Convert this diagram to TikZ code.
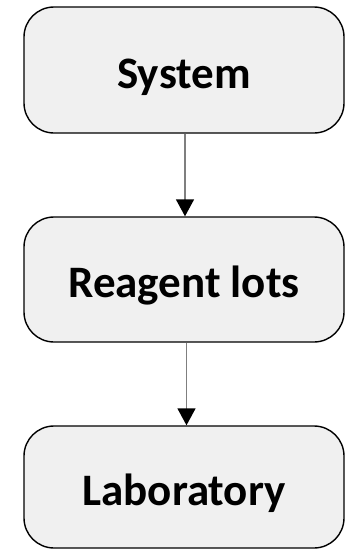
\documentclass[tikz,border=0pt]{standalone}
\usepackage{fontspec}
\setmainfont{Carlito}
\usetikzlibrary{arrows.meta}
\definecolor{boxfill}{HTML}{F0F0F0}
\definecolor{linkgray}{HTML}{7F7F7F}
\tikzset{
  stage/.style={draw=black, line width=1.4pt, fill=boxfill, rounded corners=30pt,
    minimum width=320pt, inner sep=0pt, text height=40pt, text depth=4pt,
    font=\fontsize{45}{52}\selectfont\bfseries},
  link/.style={draw=linkgray, line width=1.5pt,
    -{Triangle[width=18pt,length=17pt,color=black]}}
}
\begin{document}
\begin{tikzpicture}[x=1pt,y=-1pt]
  \useasboundingbox (0,0) rectangle (345,549);
  \node[stage, minimum height=126pt] (sys) at (184,70) {System};
  \node[stage, minimum height=125pt] (lots) at (184,279.5) {Reagent lots};
  \node[stage, minimum height=122pt] (lab) at (184,487) {Laboratory};
  \draw[link] ([xshift=1pt]sys.south) -- ([xshift=1pt]lots.north);
  \draw[link] ([xshift=2.5pt]lots.south) -- ([xshift=2.5pt]lab.north);
\end{tikzpicture}
\end{document}
